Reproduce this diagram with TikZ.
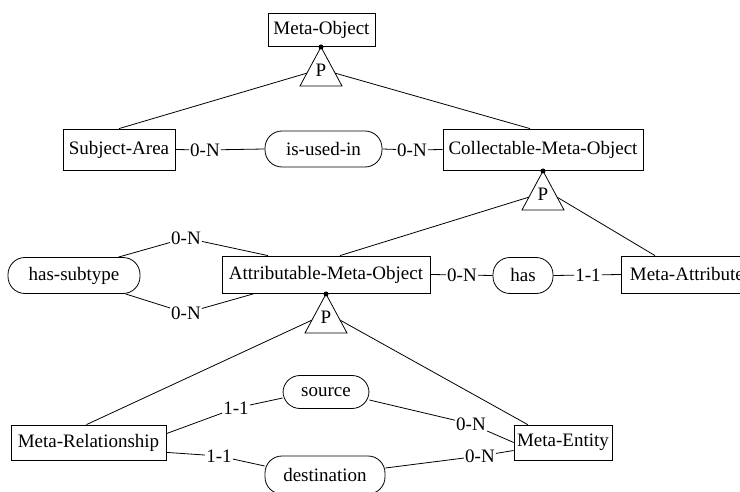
\documentclass[tikz,border=0pt]{standalone}
\usepackage{fontspec}
\setmainfont{Liberation Serif}
\usetikzlibrary{calc}
\begin{document}
\begin{tikzpicture}[x=1pt,y=-1pt,
  font=\fontspec{Liberation Serif}\fontsize{19}{21}\selectfont,
  ent/.style={draw,thick,rectangle,inner xsep=3pt,inner ysep=0pt,minimum height=36pt},
  rel/.style={draw,thick,rectangle,rounded corners=17pt,inner xsep=6pt,inner ysep=0pt,minimum height=36pt},
  card/.style={inner sep=1pt},
  link/.style={thick},
  partri/.style={draw,thick,line join=miter},
  apexdot/.style={fill,circle,inner sep=0pt,minimum size=5pt}]
\useasboundingbox (0,0) rectangle (740,492);
\clip (0,0) rectangle (740,492);

% entities
\node[ent,minimum height=33pt,minimum width=107pt] (mobj) at (321.5,29.5) {Meta-Object};
\node[ent,minimum height=41pt,minimum width=112pt] (subj) at (119,149.5) {Subject-Area};
\node[ent,minimum height=41pt,minimum width=200pt] (coll) at (543,149.5) {Collectable-Meta-Object};
\node[ent,minimum height=37pt,minimum width=208pt] (attr) at (326,274.5) {Attributable-Meta-Object};
\node[ent,minimum height=37pt,minimum width=131pt,anchor=west] (matt) at (621,274.5) {Meta-Attribute};
\node[ent,minimum height=35pt,minimum width=155pt] (mrel) at (88.5,442.5) {Meta-Relationship};
\node[ent,minimum height=35pt,minimum width=94pt] (ment) at (563,442.5) {Meta-Entity};

% relationships
\node[rel,minimum width=117pt] (used) at (323.5,149) {is-used-in};
\node[rel,minimum width=132pt] (subt) at (74,275.5) {has-subtype};
\node[rel,minimum width=60pt] (has) at (523,275.5) {has};
\node[rel,minimum height=33pt,minimum width=86pt] (src) at (326,392) {source};
\node[rel,minimum height=38pt,minimum width=120pt] (dst) at (325,475) {destination};

% partition triangles with apex dots
\foreach \nm/\px/\py in {ta/321/47, tb/543/171, tc/326/294} {
  \coordinate (\nm) at (\px,\py);
  \coordinate (\nm-l) at ($(\nm)+(-21,39)$);
  \coordinate (\nm-r) at ($(\nm)+(21,39)$);
  \draw[partri] (\nm) -- (\nm-l) -- (\nm-r) -- cycle;
  \node at ($(\nm)+(0,23)$) {P};
  \node[apexdot] at (\nm) {};
  \coordinate (\nm-sl) at ($(\nm)!0.67!(\nm-l)$);
  \coordinate (\nm-sr) at ($(\nm)!0.67!(\nm-r)$);
}

% subclass links
\draw[link] (ta-sl) -- (subj.north);
\draw[link] (ta-sr) -- ([xshift=-13pt]coll.north);
\draw[link] (tb-sl) -- ([xshift=14pt]attr.north);
\draw[link] (tb-sr) -- ([xshift=34pt]matt.north west);
\draw[link] (tc-sl) -- ([xshift=-2pt]mrel.north);
\draw[link] (tc-sr) -- ([xshift=14pt]ment.north west);

% cardinality labels
\node[card] (c1) at (205,150) {0-N};
\node[card] (c2) at (412,150) {0-N};
\node[card] (c3) at (186,238) {0-N};
\node[card] (c4) at (186,313) {0-N};
\node[card] (c5) at (462,275) {0-N};
\node[card] (c6) at (588,275) {1-1};
\node[card] (c7) at (236,408) {1-1};
\node[card] (c8) at (471,424) {0-N};
\node[card] (c9) at (219,456) {1-1};
\node[card] (c10) at (480,456) {0-N};

% relationship links
\draw[link] (subj.east) -- (c1) -- (used.west);
\draw[link] (used.east) -- (c2) -- (coll.west);
\draw[link] ([xshift=-22pt]subt.north east) -- (c3) -- ([xshift=-58pt]attr.north);
\draw[link] ([xshift=-15pt]subt.south east) -- (c4) -- ([xshift=-71pt]attr.south);
\draw[link] (attr.east) -- (c5) -- (has.west);
\draw[link] (has.east) -- (c6) -- (matt.west);
\draw[link] ([yshift=-9pt]mrel.north east) -- (c7) -- ([yshift=-6pt]src.west);
\draw[link] ([yshift=-8pt]src.east) -- (c8) -- (ment.west);
\draw[link] ([yshift=8pt]mrel.south east) -- (c9) -- ([yshift=9pt]dst.west);
\draw[link] ([yshift=7pt]dst.east) -- (c10) -- ([yshift=-8pt]ment.west);
\end{tikzpicture}
\end{document}
